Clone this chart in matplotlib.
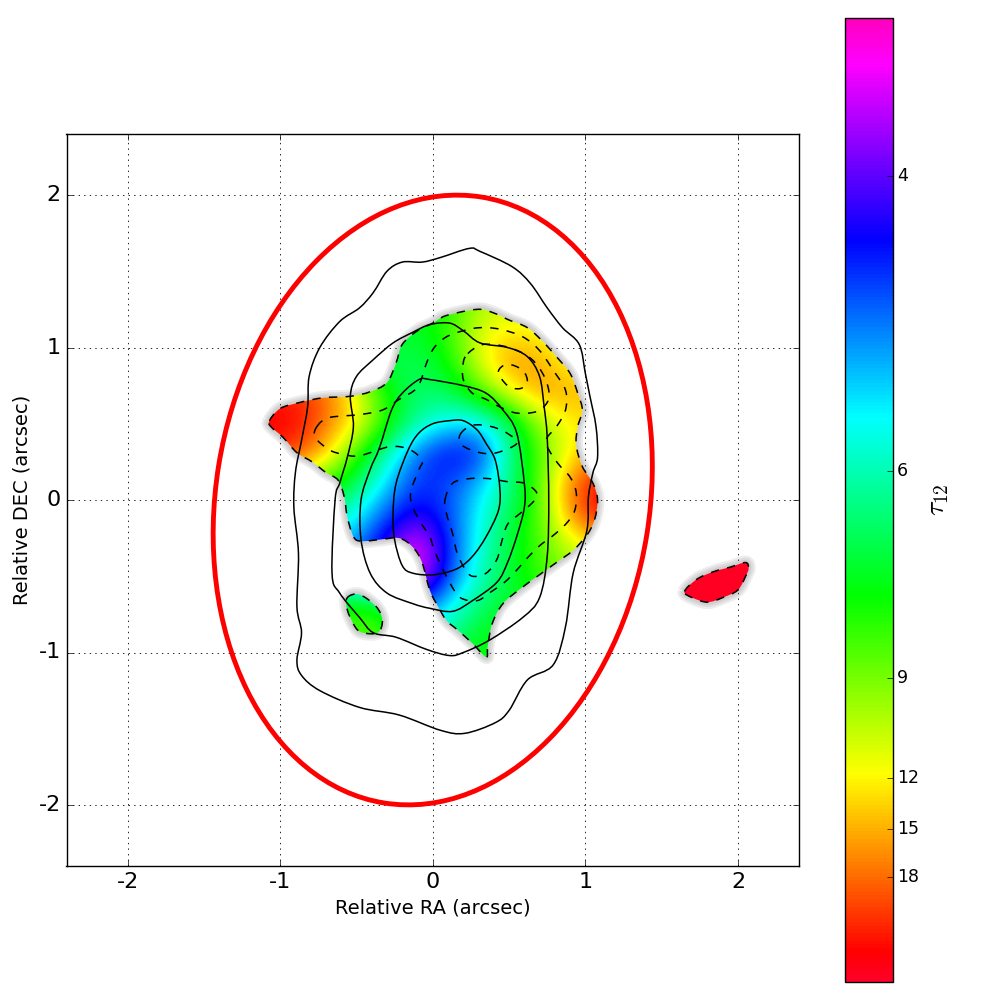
"""
Optical depth map of a disc: tau_12 colour map, continuum contours (solid),
tau contours (dashed) and a red beam ellipse.
"""
import numpy as np
import matplotlib as mpl
mpl.use('Agg')
import matplotlib.pyplot as plt
from matplotlib.path import Path
from matplotlib.patches import PathPatch, Ellipse

# colour level (0-1 along the colourbar)
#------------------------------------------------------------------------------
gridRA = [-1.1, -0.9, -0.7, -0.5, -0.3, -0.1, 0.1, 0.3, 0.5, 0.7, 0.9, 1.1]
gridDEC = [1.3, 1.1, 0.9, 0.7, 0.5, 0.3, 0.1, -0.1, -0.3, -0.5, -0.7, -0.9, -1.1]
tauLevel = [
    [.30, .30, .30, .30, .42, .42, .38, .28, .26, .26, .26, .26],
    [.30, .30, .30, .38, .42, .43, .36, .24, .20, .22, .26, .26],
    [.20, .20, .20, .36, .46, .46, .40, .23, .14, .15, .22, .22],
    [.05, .05, .10, .22, .40, .48, .46, .36, .22, .15, .16, .16],
    [.03, .03, .12, .21, .38, .52, .60, .60, .48, .28, .21, .20],
    [.05, .08, .17, .36, .54, .70, .78, .76, .50, .34, .21, .14],
    [.30, .30, .38, .47, .62, .74, .72, .62, .50, .33, .11, .02],
    [.50, .50, .50, .58, .72, .80, .72, .58, .46, .34, .13, .03],
    [.60, .60, .60, .68, .82, .97, .74, .56, .44, .34, .25, .20],
    [.70, .70, .70, .70, .85, .97, .72, .54, .44, .36, .30, .30],
    [.37, .37, .37, .37, .38, .72, .58, .48, .42, .40, .40, .40],
    [.35, .35, .35, .35, .36, .50, .52, .41, .40, .40, .40, .40],
    [.35, .35, .35, .35, .36, .40, .40, .40, .40, .40, .40, .40],
]
clumpLevel = [[.005, .005], [.005, .005]]

tickLevels = [.836, .530, .315, .212, .159, .109]
tickLabels = ['4', '6', '9', '12', '15', '18']

# solid contours
#------------------------------------------------------------------------------
solid1 = [(.24,1.65),(.31,1.63),(.52,1.53),(.64,1.42),(.75,1.26),(.85,1.13),(.96,1.02),(1.00,.83),
          (1.03,.68),(1.07,.48),(1.08,.28),(1.05,.18),(1.02,.02),(1.01,-.20),(.92,-.48),(.87,-.83),
          (.79,-1.08),(.62,-1.18),(.50,-1.38),(.41,-1.46),(.21,-1.53),(.05,-1.51),(-.22,-1.41),
          (-.48,-1.36),(-.74,-1.25),(-.86,-1.15),(-.89,-1.05),(-.86,-.87),(-.89,-.70),(-.88,-.35),
          (-.91,-.05),(-.90,.18),(-.86,.39),(-.82,.61),(-.81,.81),(-.74,1.00),(-.61,1.17),(-.48,1.26),
          (-.39,1.36),(-.30,1.50),(-.20,1.56),(-.07,1.56),(.05,1.59)]
solid2 = [(-.02,1.15),(.11,1.16),(.20,1.11),(.31,1.03),(.49,1.00),(.62,.94),(.70,.81),(.73,.61),
          (.75,.41),(.76,0),(.75,-.37),(.70,-.64),(.59,-.77),(.37,-.92),(.20,-1.00),(.11,-1.02),
          (-.04,-.98),(-.24,-.90),(-.39,-.87),(-.48,-.77),(-.61,-.61),(-.66,-.48),(-.64,0),(-.61,.11),
          (-.56,.28),(-.52,.48),(-.54,.68),(-.50,.81),(-.39,.92),(-.26,1.03),(-.13,1.10)]
solid3 = [(-.02,.79),(.20,.75),(.35,.70),(.46,.59),(.55,.44),(.60,.11),(.60,-.05),(.55,-.24),
          (.49,-.41),(.42,-.54),(.26,-.66),(.13,-.73),(-.02,-.71),(-.13,-.68),(-.30,-.61),(-.41,-.48),
          (-.47,-.26),(-.47,0),(-.41,.20),(-.35,.34),(-.27,.59),(-.20,.70),(-.09,.79)]
solid4 = [(0,.50),(.11,.52),(.20,.52),(.29,.46),(.35,.37),(.41,.26),(.44,.07),(.43,-.07),(.35,-.24),
          (.26,-.37),(.16,-.45),(.01,-.49),(-.13,-.48),(-.20,-.43),(-.25,-.26),(-.26,-.09),(-.24,.11),
          (-.16,.33),(-.09,.44)]

# dashed contours, the first three are also the edge of the coloured map
#------------------------------------------------------------------------------
edgeMain = [(-1.07,.52),(-1.00,.60),(-.87,.64),(-.72,.67),(-.54,.68),(-.41,.71),(-.30,.77),(-.24,.90),
            (-.20,1.02),(-.10,1.11),(0,1.16),(.09,1.21),(.29,1.25),(.39,1.23),(.50,1.18),(.62,1.13),
            (.72,1.04),(.81,.94),(.90,.83),(.95,.70),(.98,.59),(.95,.48),(.94,.36),(.98,.22),(1.05,.11),
            (1.08,0),(1.06,-.13),(1.01,-.23),(.92,-.33),(.81,-.41),(.70,-.49),(.59,-.57),(.46,-.68),
            (.39,-.81),(.36,-.96),(.35,-1.03),(.26,-.94),(.16,-.85),(.09,-.79),(.03,-.69),(-.02,-.59),
            (-.07,-.41),(-.13,-.31),(-.22,-.25),(-.35,-.26),(-.47,-.27),(-.52,-.24),(-.56,-.11),
            (-.58,.02),(-.62,.13),(-.70,.18),(-.79,.25),(-.89,.31),(-.98,.41),(-1.06,.48)]
edgeBlob = [(-.56,-.64),(-.48,-.62),(-.37,-.70),(-.33,-.79),(-.36,-.87),(-.46,-.87),(-.51,-.83),(-.56,-.72)]
edgeClump = [(1.65,-.60),(1.73,-.52),(1.84,-.47),(1.95,-.44),(2.05,-.41),(2.07,-.45),(2.05,-.50),
             (2.00,-.59),(1.90,-.64),(1.80,-.67),(1.70,-.64)]
dashA = [(-.76,.48),(-.68,.54),(-.48,.56),(-.33,.59),(-.22,.66),(-.10,.74),(-.04,.90),(.01,1.00),(.09,1.07),
         (.20,1.11),(.31,1.13),(.44,1.12),(.59,1.07),(.70,.98),(.79,.85),(.87,.72),(.87,.59),(.81,.48),
         (.75,.41),(.75,.35),(.82,.24),(.90,.15),(.94,.05),(.93,-.07),(.87,-.16),(.78,-.24),(.70,-.30),
         (.62,-.38),(.55,-.46),(.47,-.54),(.37,-.61),(.29,-.66),(.18,-.64),(.11,-.54),(.06,-.44),(.01,-.33),
         (-.02,-.24),(-.09,-.13),(-.14,-.02),(-.14,.07),(-.09,.20),(-.07,.26),(-.15,.33),(-.28,.35),
         (-.48,.29),(-.59,.30),(-.68,.33),(-.77,.41)]
dashB = [(.23,.96),(.33,1.02),(.50,1.00),(.64,.93),(.72,.83),(.76,.72),(.75,.64),(.68,.58),(.55,.57),
         (.44,.61),(.35,.66),(.26,.70),(.20,.79),(.20,.90)]
dashC = [(.43,.84),(.49,.89),(.59,.85),(.62,.77),(.57,.73),(.49,.75)]
dashD = [(.18,.43),(.26,.49),(.39,.48),(.50,.43),(.55,.37),(.42,.31),(.31,.31),(.19,.36)]
dashE = [(.08,0),(.13,.11),(.24,.14),(.37,.14),(.49,.12),(.60,.11),(.68,.05),(.66,-.01),(.57,-.09),
         (.49,-.16),(.45,-.28),(.42,-.39),(.35,-.48),(.26,-.50),(.21,-.45),(.16,-.35),(.13,-.22),(.09,-.09)]

# beam ellipse [arcsec, deg]
beamMajor = 2.012
beamMinor = 1.421
beamAngle = -9.15


def closedCurve(points):
    # closed bezier through the points (catmull-rom handles)
    pts = np.array(points, dtype=float)
    n = len(pts)
    verts = [pts[0]]
    codes = [Path.MOVETO]
    for i in range(n):
        p0, p1, p2, p3 = pts[i-1], pts[i], pts[(i+1) % n], pts[(i+2) % n]
        verts += [p1+(p2-p0)/6., p2-(p3-p1)/6., p2]
        codes += [Path.CURVE4]*3
    return Path(verts, codes)


plt.style.use('classic')
plt.rcParams['font.family'] = ['DejaVu Sans']
plt.rcParams['axes.unicode_minus'] = False
fig = plt.figure(figsize=(10, 10), dpi=100, facecolor='white')
ax = fig.add_axes([0.0665, 0.134, 0.7325, 0.732])
cax = fig.add_axes([0.845, 0.018, 0.048, 0.964])

cmap = plt.get_cmap('gist_rainbow')
dRA = (gridRA[1]-gridRA[0])/2.
dDEC = (gridDEC[0]-gridDEC[1])/2.
mainExtent = [gridRA[0]-dRA, gridRA[-1]+dRA, gridDEC[-1]-dDEC, gridDEC[0]+dDEC]
mainImg = ax.imshow(tauLevel, origin='upper', extent=mainExtent, cmap=cmap, vmin=0, vmax=1,
                    interpolation='bicubic', aspect='auto', zorder=2)
clumpImg = ax.imshow(clumpLevel, origin='upper', extent=[1.5, 2.2, -.8, -.3], cmap=cmap, vmin=0, vmax=1,
                     interpolation='bilinear', aspect='auto', zorder=2)

mainClip = Path.make_compound_path(closedCurve(edgeMain), closedCurve(edgeBlob))
mainImg.set_clip_path(PathPatch(mainClip, transform=ax.transData))
clumpImg.set_clip_path(PathPatch(closedCurve(edgeClump), transform=ax.transData))

# soft grey fringe round the map
for edge in [edgeMain, edgeBlob, edgeClump]:
    for width in [10, 7, 4]:
        ax.add_patch(PathPatch(closedCurve(edge), fill=False, edgecolor='0.5', alpha=.14,
                               linewidth=width, zorder=1))

for contour in [solid1, solid2, solid3, solid4]:
    ax.add_patch(PathPatch(closedCurve(contour), fill=False, edgecolor='k', linewidth=1.1, zorder=3))
for contour in [edgeMain, edgeBlob, edgeClump, dashA, dashB, dashC, dashD, dashE]:
    ax.add_patch(PathPatch(closedCurve(contour), fill=False, edgecolor='k', linewidth=1.1,
                           linestyle='--', zorder=3))

ax.add_patch(Ellipse((0, 0), 2*beamMinor, 2*beamMajor, angle=beamAngle, fill=False, edgecolor='r',
                     linewidth=3.5, zorder=4))

ax.set_xlim(-2.4, 2.4)
ax.set_ylim(-2.4, 2.4)
ax.set_xticks([-2, -1, 0, 1, 2])
ax.set_yticks([-2, -1, 0, 1, 2])
ax.grid(True, color='k', linestyle=':', linewidth=.6)
ax.set_axisbelow(True)
ax.tick_params(labelsize=16)
ax.set_xlabel('Relative RA (arcsec)', fontsize=14)
ax.set_ylabel('Relative DEC (arcsec)', fontsize=14)

cb = fig.colorbar(mainImg, cax=cax)
cb.set_ticks(tickLevels)
cb.set_ticklabels(tickLabels)
cb.ax.tick_params(labelsize=12.5, pad=3)
cb.set_label(r'$\tau_{12}$', fontsize=20, labelpad=3)

fig.savefig('out.png', dpi=100, facecolor='white')
